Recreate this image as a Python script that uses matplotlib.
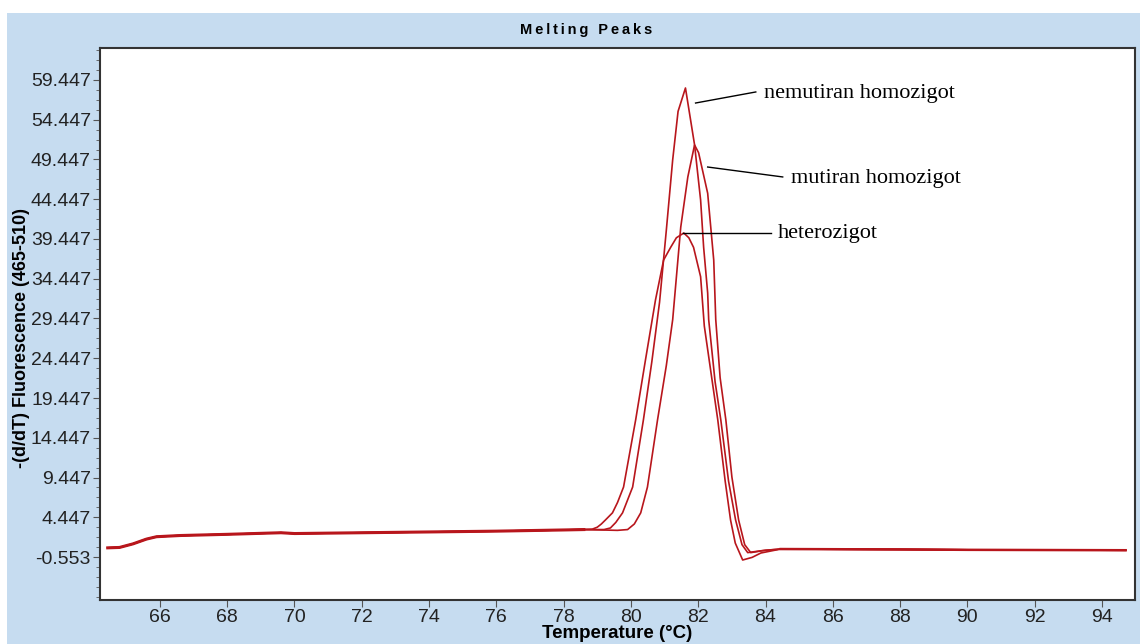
import numpy as np
import matplotlib
matplotlib.use('Agg')
import matplotlib.pyplot as plt
from matplotlib import font_manager
from matplotlib.ticker import FixedLocator, AutoMinorLocator

# shared flat baseline before the melting peaks
base_temp = [64.45, 64.8, 65.2, 65.6, 65.9, 66.6, 68.0, 69.6, 70.0, 71.0, 72.0, 74.0, 76.0, 78.0, 78.6]
base_val = [0.6, 0.65, 1.1, 1.7, 2.0, 2.15, 2.3, 2.5, 2.4, 2.45, 2.5, 2.6, 2.7, 2.85, 2.9]

# tail after the peaks
tail_temp = [84.45, 88.0, 90.0, 94.7]
tail_val = [0.45, 0.4, 0.35, 0.3]

# heterozigot
het_temp = [78.85, 79.0, 79.12, 79.24, 79.45, 79.6, 79.78, 80.14, 80.43, 80.73, 80.97, 81.18, 81.35,
            81.57, 81.72, 81.86, 82.07, 82.18, 82.4, 82.58, 82.8, 82.96, 83.1, 83.32, 83.6, 83.86]
het_val = [2.95, 3.2, 3.6, 4.1, 5.0, 6.3, 8.25, 16.7, 24.2, 31.8, 36.8, 38.4, 39.6,
           40.2, 39.6, 38.4, 34.7, 28.5, 22.0, 16.7, 9.0, 4.1, 1.2, -0.93, -0.6, -0.05]

# nemutiran homozigot
nem_temp = [79.2, 79.39, 79.55, 79.75, 80.05, 80.37, 80.62, 80.85, 81.05, 81.24, 81.4, 81.62, 81.89,
            82.07, 82.16, 82.28, 82.31, 82.5, 82.67, 82.9, 83.11, 83.3, 83.47, 83.9]
nem_val = [2.9, 3.1, 3.8, 5.0, 8.25, 16.7, 24.0, 31.5, 40.5, 49.4, 55.5, 58.44, 51.3,
           44.35, 38.4, 32.65, 29.3, 21.5, 16.7, 9.0, 4.1, 1.0, 0.0, 0.25]

# mutiran homozigot
mut_temp = [79.6, 79.9, 80.1, 80.29, 80.49, 80.79, 81.05, 81.24, 81.48, 81.69, 81.89, 82.01, 82.28,
            82.46, 82.52, 82.65, 82.82, 83.0, 83.2, 83.38, 83.56, 84.0]
mut_val = [2.8, 2.9, 3.6, 5.0, 8.25, 16.7, 23.5, 29.3, 40.95, 47.25, 51.27, 50.3, 45.2,
           36.8, 29.3, 22.0, 16.7, 9.5, 4.1, 1.0, 0.0, 0.3]

y_ticks = [-0.553, 4.447, 9.447, 14.447, 19.447, 24.447, 29.447, 34.447, 39.447, 44.447,
           49.447, 54.447, 59.447]
y_ticklabels = ['-0.553', '4.447', '9.447', '14.447', '19.447', '24.447', '29.447', '34.447',
                '39.447', '44.447', '49.447', '54.447', '59.447']
x_ticks = [66, 68, 70, 72, 74, 76, 78, 80, 82, 84, 86, 88, 90, 92, 94]

labels = ['nemutiran homozigot', 'mutiran homozigot', 'heterozigot']
label_pos = [(83.95, 57.8), (84.75, 47.1), (84.36, 40.2)]
pointer_start = [(81.92, 56.55), (82.28, 48.5), (81.55, 40.2)]
pointer_end = [(83.71, 57.94), (84.51, 47.25), (84.15, 40.2)]

bg = '#c6dcf0'
red = '#b8161c'

# narrow sans for the y label if it is there
try:
    font_manager.findfont('Liberation Sans Narrow', fallback_to_default=False)
    narrow = 'Liberation Sans Narrow'
except Exception:
    narrow = 'Liberation Sans'

fig = plt.figure(figsize=(11.4, 6.44), dpi=100, facecolor=bg)
# white margins at top and left of the screenshot
fig.patches.append(plt.Rectangle((0, 1 - 13 / 644), 1, 13 / 644, transform=fig.transFigure,
                                 facecolor='white', edgecolor='none', zorder=0))
fig.patches.append(plt.Rectangle((0, 0), 7 / 1140, 1, transform=fig.transFigure,
                                 facecolor='white', edgecolor='none', zorder=0))

ax = fig.add_axes([100 / 1140, 1 - 600 / 644, 1035 / 1140, 552 / 644])
ax.set_facecolor('white')

for t, v in [(het_temp, het_val), (nem_temp, nem_val), (mut_temp, mut_val)]:
    xs = base_temp + t + tail_temp
    ys = base_val + v + tail_val
    ax.plot(xs, ys, color=red, lw=1.2)
# baseline looks heavier where the three traces overlap
ax.plot(base_temp, base_val, color=red, lw=2.2)
ax.plot(tail_temp, tail_val, color=red, lw=1.8)

for lab, pos, p0, p1 in zip(labels, label_pos, pointer_start, pointer_end):
    ax.plot([p0[0], p1[0]], [p0[1], p1[1]], color='black', lw=1.0)
    ax.text(pos[0], pos[1], lab, fontsize=16, family='Liberation Serif', va='center', ha='left')

ax.set_xlim(64.22, 94.98)
ax.set_ylim(-5.96, 63.47)
ax.yaxis.set_major_locator(FixedLocator(y_ticks))
ax.set_yticklabels(y_ticklabels)
ax.yaxis.set_minor_locator(AutoMinorLocator(4))
ax.xaxis.set_major_locator(FixedLocator(x_ticks))

for s in ax.spines.values():
    s.set_color('#333333')
    s.set_linewidth(1.5)
ax.tick_params(axis='both', which='major', length=5, color='#555555', labelsize=14,
               labelcolor='#222222', pad=1.5)
ax.tick_params(axis='y', which='minor', length=3, color='#555555')
for lab in ax.get_xticklabels() + ax.get_yticklabels():
    lab.set_family('Liberation Sans')

fig.text(617 / 1140, 1 - 634 / 644, 'Temperature (°C)', fontsize=13.5, fontweight='bold',
         family='Liberation Sans', ha='center', va='center')
fig.text(22 / 1140, 1 - 338 / 644, '-(d/dT) Fluorescence (465-510)', fontsize=13, fontweight='bold',
         family=narrow, rotation=90, ha='center', va='center')
fig.text(586 / 1140, 1 - 30 / 644, '\u2009'.join('Melting Peaks'), fontsize=10.5, fontweight='bold',
         family='Liberation Sans', ha='center', va='center')

fig.savefig('out.png', dpi=100, facecolor=bg)
